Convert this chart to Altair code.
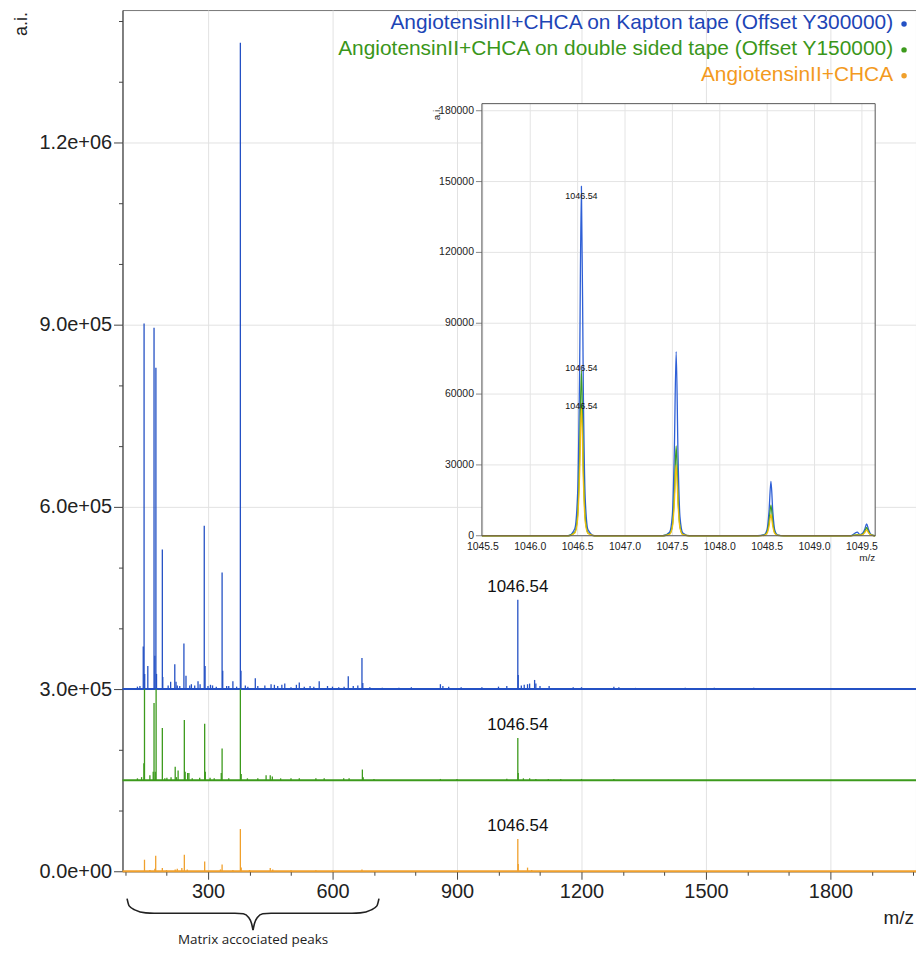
import altair as alt
import pandas as pd

# ---------------- data ----------------
series_keys = ["kapton", "double", "plain"]
series_names = [
    "AngiotensinII+CHCA on Kapton tape (Offset Y300000)",
    "AngiotensinII+CHCA on double sided tape (Offset Y150000)",
    "AngiotensinII+CHCA",
]
offsets = [300000, 150000, 0]

kapton_mz = [130, 136, 144, 146, 147.5, 155, 170, 172, 174.5, 176, 190, 191, 204, 210, 220, 223, 226, 232,
             242, 247, 256, 260, 268, 276, 281, 291, 293, 300, 306, 311, 320, 334, 335.5, 345, 350, 360,
             369, 378, 379.5, 390, 396, 414, 420, 437, 452, 460, 468, 478, 485, 500, 513, 520, 532, 546,
             555, 568, 588, 600, 615, 628, 638, 650, 661, 671, 673, 690, 720, 760, 790, 860, 866, 880,
             910, 960, 1000, 1020, 1046.54, 1047.5, 1055, 1062, 1070, 1075, 1087, 1090, 1100, 1122, 1180,
             1200, 1278, 1290, 1330, 1450, 1520, 1615]
kapton_h = [4000, 5000, 70000, 602000, 25000, 38000, 595000, 55000, 529000, 25000, 230000, 20000, 6000, 12000,
            41000, 12000, 6000, 5000, 75000, 22000, 6000, 8000, 6000, 13000, 8000, 269000, 38000, 5000, 7000,
            6000, 4000, 192000, 30000, 5000, 5000, 13000, 4000, 1064000, 30000, 6000, 4000, 18000, 5000,
            6000, 8000, 7000, 5000, 7000, 9000, 3000, 7000, 11000, 4000, 5000, 4000, 13000, 5000, 4000,
            3000, 4000, 21000, 5000, 6000, 51000, 10000, 3000, 2000, 2000, 3000, 8000, 5000, 4000, 3000,
            3000, 4000, 5000, 147000, 23000, 6000, 7000, 8000, 9000, 15000, 9000, 5000, 5000, 3000, 3000,
            4000, 3000, 2000, 2000, 2000, 2000]

double_mz = [130, 140, 145.5, 147, 160, 168, 170, 173, 175, 190, 196, 201, 211, 221, 224, 228, 243, 245, 251,
             254, 262, 280, 292, 293.5, 305, 315, 332, 334, 350, 378, 380, 395, 420, 440, 450, 455, 475, 500,
             520, 560, 580, 627, 640, 672, 674, 700, 860, 900, 1020, 1046.54, 1047.5, 1060, 1075, 1090, 1120,
             1150, 1200, 1278]
double_h = [3000, 5000, 28000, 150000, 8000, 14000, 127000, 14000, 150000, 86000, 3000, 4000, 5000, 22000, 5000,
            16000, 99000, 14000, 12000, 12000, 3000, 4000, 93000, 14000, 4000, 3000, 12000, 52000, 3000,
            150000, 10000, 3000, 3000, 8000, 8000, 6000, 3000, 3000, 3000, 3000, 3000, 3000, 3000, 17500,
            5000, 2000, 2000, 2000, 2500, 69500, 12000, 3000, 3000, 2000, 2000, 2000, 2000, 2000]

plain_mz = [147, 160, 172, 174, 190, 200, 221, 226, 237, 243, 250, 292, 330, 334, 360, 378, 380, 400, 450,
            456, 500, 560, 600, 671, 1046.54, 1047.5, 1070, 1080]
plain_h = [19000, 2000, 4000, 25700, 5500, 2000, 3000, 4000, 5500, 27000, 3000, 16000, 3000, 11000, 2000,
           69500, 6000, 2000, 5500, 3000, 1500, 1500, 1500, 3000, 53000, 12000, 6000, 2000]

mz_domain = [94, 2006]
ai_domain = [0, 1418000]
x_ticks = [100, 200, 300, 400, 500, 600, 700, 800, 900, 1000, 1100, 1200, 1300, 1400, 1500, 1600, 1700,
           1800, 1900, 2000]
y_ticks = [0, 100000, 200000, 300000, 400000, 500000, 600000, 700000, 800000, 900000, 1000000, 1100000,
           1200000, 1300000, 1400000]

peak_label_text = "1046.54"
peak_label_mz = 1046.54
peak_label_heights = [147000, 69500, 53000]

# brace under the matrix peaks (m/z, a.i.)
brace_left_mz = [105, 110, 125, 150, 170, 365, 385, 398, 405, 408.5]
brace_left_ai = [-45000, -57000, -64000, -68500, -69000, -69000, -70000, -76000, -86000, -97000]
brace_right_mz = [408.5, 412, 419, 432, 452, 647, 667, 692, 707, 712]
brace_right_ai = [-97000, -86000, -76000, -70000, -69000, -69000, -68500, -64000, -57000, -45000]
brace_text = "Matrix accociated peaks"
brace_text_mz = 408.5
brace_text_ai = -114000

# inset
inset_x_domain = [1045.49, 1049.64]
inset_y_domain = [0, 183000]
inset_x_ticks = [1045.5, 1046.0, 1046.5, 1047.0, 1047.5, 1048.0, 1048.5, 1049.0, 1049.5]
inset_y_ticks = [0, 30000, 60000, 90000, 120000, 150000, 180000]
inset_mz = [1045.49,
            1046.40, 1046.47, 1046.50, 1046.52, 1046.54, 1046.56, 1046.58, 1046.61, 1046.68,
            1047.40, 1047.47, 1047.50, 1047.52, 1047.54, 1047.56, 1047.58, 1047.61, 1047.68,
            1048.40, 1048.47, 1048.50, 1048.52, 1048.54, 1048.56, 1048.58, 1048.61, 1048.68,
            1049.38, 1049.45, 1049.48, 1049.51, 1049.53, 1049.55, 1049.57, 1049.59, 1049.62, 1049.64]
inset_kapton = [0,
                0, 3000, 18000, 66000, 148000, 62000, 16000, 2500, 0,
                0, 1500, 9000, 35000, 78000, 33000, 8000, 1200, 0,
                0, 500, 2800, 10500, 23000, 10000, 2500, 400, 0,
                0, 1500, 500, 1200, 2800, 5000, 2600, 800, 200, 0]
inset_double = [0,
                0, 1500, 9000, 32000, 70000, 30000, 8000, 1200, 0,
                0, 800, 4500, 17000, 38000, 16000, 4000, 600, 0,
                0, 300, 1600, 6000, 13000, 5500, 1400, 200, 0,
                0, 500, 300, 700, 1800, 3500, 1700, 500, 100, 0]
inset_plain = [0,
               0, 1200, 7000, 25000, 55000, 24000, 6000, 1000, 0,
               0, 600, 3600, 13500, 30000, 13000, 3200, 500, 0,
               0, 200, 1100, 4100, 9000, 3900, 1000, 150, 0,
               0, 300, 200, 500, 1300, 2500, 1200, 400, 80, 0]
inset_label_y = [144000, 71000, 55000]

# ---------------- styles ----------------
line_colors = ["#2451c4", "#3c9a1c", "#f0a02c"]
text_colors = ["#1d45b6", "#3a961a", "#f39a1e"]
inset_colors = ["#2e5fd6", "#3c9a28", "#f2be10"]
FONT = "Liberation Sans"

W, H = 797, 865

# ---------------- tables ----------------
rows = []
for key, off, mzs, hs in [("plain", 0, plain_mz, plain_h),
                          ("double", 150000, double_mz, double_h),
                          ("kapton", 300000, kapton_mz, kapton_h)]:
    for m, h in zip(mzs, hs):
        rows.append({"series": key, "mz": m, "base": off, "top": off + h})
peaks = pd.DataFrame(rows)

baselines = pd.DataFrame({"series": series_keys, "x0": [mz_domain[0]] * 3,
                          "x1": [mz_domain[1]] * 3, "y": offsets})
labels_main = pd.DataFrame({"series": series_keys, "mz": [peak_label_mz] * 3,
                            "y": [o + h for o, h in zip(offsets, peak_label_heights)],
                            "t": [peak_label_text] * 3})
brace = pd.DataFrame({"mz": brace_left_mz + brace_right_mz, "ai": brace_left_ai + brace_right_ai,
                      "half": ["L"] * len(brace_left_mz) + ["R"] * len(brace_right_mz),
                      "o": list(range(len(brace_left_mz))) + list(range(len(brace_right_mz)))})
brace_lbl = pd.DataFrame({"mz": [brace_text_mz], "ai": [brace_text_ai], "t": [brace_text]})

xs = alt.Scale(domain=mz_domain, nice=False, zero=False)
ys = alt.Scale(domain=ai_domain, nice=False, zero=False)
cs = alt.Scale(domain=series_keys, range=line_colors)

major_x = "datum.value % 300 === 0"
xaxis = alt.Axis(values=x_ticks, title=None,
                 labelExpr=f"{major_x} ? '' + datum.value : ''",
                 tickSize={"condition": {"test": major_x, "value": 8}, "value": 4},
                 gridOpacity={"condition": {"test": major_x, "value": 1}, "value": 0},
                 grid=True, gridColor="#e2e2e2", labelFont=FONT, labelFontSize=20, labelColor="#222",
                 domainColor="#444", tickColor="#444", labelPadding=2, labelOverlap=False, labelFlush=False)
major_y = "datum.value % 300000 === 0"
yaxis = alt.Axis(values=y_ticks, title=None,
                 labelExpr=f"{major_y} ? replace(format(datum.value, '.1e'), 'e+', 'e+0') : ''",
                 tickSize={"condition": {"test": major_y, "value": 9}, "value": 4},
                 gridOpacity={"condition": {"test": major_y, "value": 1}, "value": 0},
                 grid=True, gridColor="#e2e2e2", labelFont=FONT, labelFontSize=20, labelColor="#222",
                 domainColor="#444", tickColor="#444", labelPadding=2, labelOverlap=False, labelFlush=False)

base_layer = alt.Chart(baselines).mark_rule(strokeWidth=2).encode(
    x=alt.X("x0:Q", scale=xs, axis=xaxis), x2="x1:Q",
    y=alt.Y("y:Q", scale=ys, axis=yaxis),
    color=alt.Color("series:N", scale=cs, legend=None))

peak_layer = alt.Chart(peaks).mark_rule(strokeWidth=1.3).encode(
    x=alt.X("mz:Q", scale=xs, axis=xaxis),
    y=alt.Y("base:Q", scale=ys, axis=yaxis), y2="top:Q",
    color=alt.Color("series:N", scale=cs, legend=None))

label_layer = alt.Chart(labels_main).mark_text(font=FONT, fontSize=17, color="#111", dy=-13,
                                               baseline="middle").encode(
    x=alt.X("mz:Q", scale=xs, axis=xaxis), y=alt.Y("y:Q", scale=ys, axis=yaxis), text="t:N")

brace_layer = alt.Chart(brace).mark_line(color="#222", strokeWidth=1.6, interpolate="monotone").encode(
    x=alt.X("mz:Q", scale=xs, axis=xaxis), y=alt.Y("ai:Q", scale=ys, axis=yaxis),
    detail="half:N", order="o:Q")
brace_text_layer = alt.Chart(brace_lbl).mark_text(font="Open Sans", fontSize=13.5, color="#222",
                                                  baseline="middle").encode(
    x=alt.X("mz:Q", scale=xs, axis=xaxis), y=alt.Y("ai:Q", scale=ys, axis=yaxis), text="t:N")

title_df = pd.DataFrame({"t": ["a.i.", "m/z"]})
ai_title = alt.Chart(title_df.iloc[[0]]).mark_text(font=FONT, fontSize=18, color="#222", angle=270,
                                                   align="center", baseline="middle").encode(
    x=alt.value(-101), y=alt.value(14), text="t:N")
mz_title = alt.Chart(title_df.iloc[[1]]).mark_text(font=FONT, fontSize=19, color="#222",
                                                   align="right", baseline="middle").encode(
    x=alt.value(795), y=alt.value(912), text="t:N")

legend_rows_y = [13, 39, 65]
legend_layers = []
for i, name in enumerate(series_names):
    ldf = pd.DataFrame({"t": [name]})
    legend_layers.append(alt.Chart(ldf).mark_text(font=FONT, fontSize=21, color=text_colors[i],
                                                  align="right", baseline="middle").encode(
        x=alt.value(774), y=alt.value(legend_rows_y[i]), text="t:N"))
    legend_layers.append(alt.Chart(ldf).mark_circle(size=30, opacity=1, color=line_colors[i]).encode(
        x=alt.value(785), y=alt.value(legend_rows_y[i] + 1)))

main = alt.layer(base_layer, peak_layer, label_layer, brace_layer, brace_text_layer, ai_title, mz_title,
                 *legend_layers)

# ---------------- inset ----------------
ixs = alt.Scale(domain=inset_x_domain, range=[361, 756], nice=False, zero=False)
iys = alt.Scale(domain=inset_y_domain, range=[528, 94], nice=False, zero=False)
frame = pd.DataFrame({"x0": [inset_x_domain[0]], "x1": [inset_x_domain[1]],
                      "y0": [inset_y_domain[0]], "y1": [inset_y_domain[1]]})
ixt = pd.DataFrame({"v": inset_x_ticks, "y0": inset_y_domain[0], "y1": inset_y_domain[1],
                    "lbl": [f"{v:.1f}" for v in inset_x_ticks]})
iyt = pd.DataFrame({"v": inset_y_ticks, "x0": inset_x_domain[0], "x1": inset_x_domain[1],
                    "lbl": [str(v) for v in inset_y_ticks]})

IX = lambda f: alt.X(f, scale=ixs, axis=None)
IY = lambda f: alt.Y(f, scale=iys, axis=None)

inset_bg = alt.Chart(frame).mark_rect(fill="white", stroke=None).encode(
    x=IX("x0:Q"), x2="x1:Q", y=IY("y0:Q"), y2="y1:Q")
inset_vgrid = alt.Chart(ixt).mark_rule(color="#e4e4e4", strokeWidth=1).encode(
    x=IX("v:Q"), y=IY("y0:Q"), y2="y1:Q")
inset_hgrid = alt.Chart(iyt).mark_rule(color="#e4e4e4", strokeWidth=1).encode(
    y=IY("v:Q"), x=IX("x0:Q"), x2="x1:Q")

inset_lines = []
for vals, col in zip([inset_kapton, inset_double, inset_plain], inset_colors):
    df = pd.DataFrame({"mz": inset_mz, "ai": vals})
    inset_lines.append(alt.Chart(df).mark_line(color=col, strokeWidth=1.3, interpolate="monotone").encode(
        x=IX("mz:Q"), y=IY("ai:Q")))

inset_lbl_df = pd.DataFrame({"mz": [peak_label_mz] * 3, "y": inset_label_y, "t": [peak_label_text] * 3})
inset_lbl = alt.Chart(inset_lbl_df).mark_text(font=FONT, fontSize=9, color="#111", baseline="middle").encode(
    x=IX("mz:Q"), y=IY("y:Q"), text="t:N")

inset_frame = alt.Chart(frame).mark_rect(fill=None, stroke="#555", strokeWidth=1).encode(
    x=IX("x0:Q"), x2="x1:Q", y=IY("y0:Q"), y2="y1:Q")
inset_yticks = alt.Chart(iyt).mark_tick(orient="horizontal", size=6, thickness=1, color="#555",
                                        xOffset=-3).encode(x=IX("x0:Q"), y=IY("v:Q"))
inset_ylbl = alt.Chart(iyt).mark_text(font=FONT, fontSize=10.5, color="#222", align="right",
                                      baseline="middle", dx=-8).encode(
    x=IX("x0:Q"), y=IY("v:Q"), text="lbl:N")
inset_xlbl = alt.Chart(ixt).mark_text(font=FONT, fontSize=10.5, color="#222", align="center",
                                      baseline="middle", dy=11).encode(
    x=IX("v:Q"), y=IY("y0:Q"), text="lbl:N")
inset_titles = pd.DataFrame({"t": ["a.i.", "m/z"]})
inset_ai = alt.Chart(inset_titles.iloc[[0]]).mark_text(font=FONT, fontSize=10, color="#222", angle=270,
                                                       align="center", baseline="middle").encode(
    x=alt.value(316), y=alt.value(104), text="t:N")
inset_mzt = alt.Chart(inset_titles.iloc[[1]]).mark_text(font=FONT, fontSize=10, color="#222",
                                                        align="right", baseline="middle").encode(
    x=alt.value(756), y=alt.value(550), text="t:N")

inset = alt.layer(inset_bg, inset_vgrid, inset_hgrid, *inset_lines, inset_lbl, inset_frame, inset_yticks,
                  inset_ylbl, inset_xlbl, inset_ai, inset_mzt)

chart = alt.layer(main, inset).resolve_scale(x="independent", y="independent").properties(
    width=W, height=H,
    padding={"left": 115, "top": 0, "right": 0, "bottom": 74},
    autosize=alt.AutoSizeParams(type="none"),
).configure_view(stroke="#777", strokeWidth=1)

chart.save("out.html", embed_options={"renderer": "svg", "actions": False})
